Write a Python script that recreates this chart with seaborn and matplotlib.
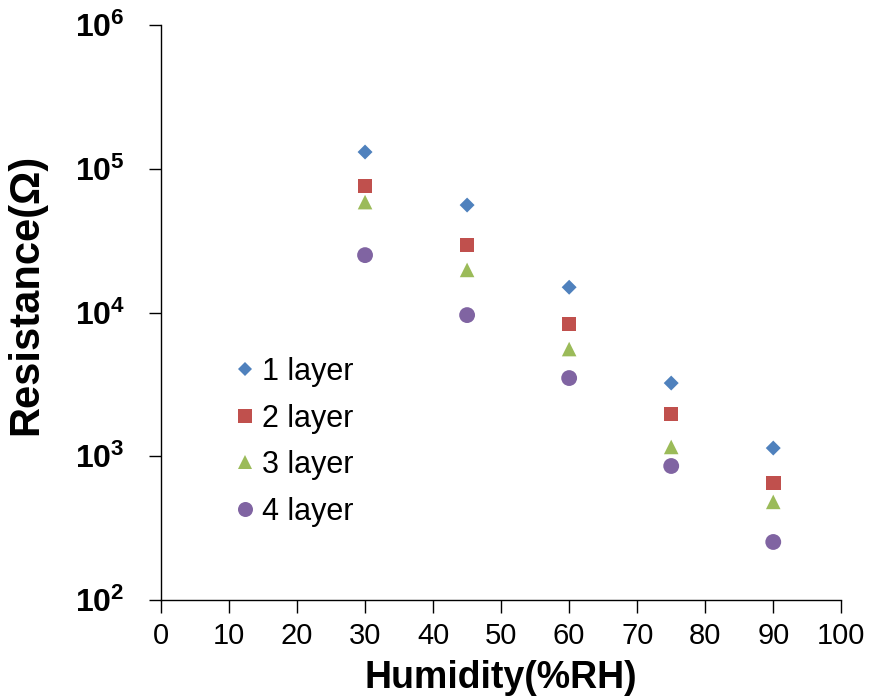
import matplotlib
matplotlib.use("Agg")
import matplotlib.pyplot as plt
import seaborn as sns
import pandas as pd
import numpy as np

humidity = [30, 45, 60, 75, 90]
layer1 = [1.31e5, 5.6e4, 1.5e4, 3.23e3, 1.14e3]
layer2 = [7.6e4, 2.95e4, 8.3e3, 1.97e3, 651]
layer3 = [5.87e4, 1.98e4, 5.57e3, 1.16e3, 481]
layer4 = [2.51e4, 9.6e3, 3.5e3, 855, 253]
series_names = ["1 layer", "2 layer", "3 layer", "4 layer"]
x_ticks = [0, 10, 20, 30, 40, 50, 60, 70, 80, 90, 100]
y_ticks = [1e2, 1e3, 1e4, 1e5, 1e6]
y_tick_labels = [r"$\mathbf{10^{2}}$", r"$\mathbf{10^{3}}$", r"$\mathbf{10^{4}}$",
                 r"$\mathbf{10^{5}}$", r"$\mathbf{10^{6}}$"]

rows = []
for name, vals in zip(series_names, [layer1, layer2, layer3, layer4]):
    for h, v in zip(humidity, vals):
        rows.append({"Humidity": h, "Resistance": v, "series": name})
df = pd.DataFrame(rows)

sns.set_style("white")
plt.rcParams["font.family"] = ["Liberation Sans", "DejaVu Sans"]
plt.rcParams["mathtext.fontset"] = "custom"
plt.rcParams["mathtext.rm"] = "Liberation Sans"
plt.rcParams["mathtext.bf"] = "Liberation Sans:bold"
for k in ["text.color", "axes.labelcolor", "xtick.color", "ytick.color"]:
    plt.rcParams[k] = "black"

colors = {"1 layer": "#4F81BD", "2 layer": "#C0504D", "3 layer": "#9BBB59", "4 layer": "#8064A2"}
markers = {"1 layer": "D", "2 layer": "s", "3 layer": "^", "4 layer": "o"}
sizes_map = {"1 layer": 58, "2 layer": 110, "3 layer": 110, "4 layer": 130}
legend_ms = {"1 layer": 6.8, "2 layer": 10.5, "3 layer": 9.5, "4 layer": 10.8}

fig = plt.figure(figsize=(8.7, 7), dpi=100)
ax = fig.add_axes([0.185, 0.143, 0.782, 0.821])

for name in series_names:
    sub = df[df["series"] == name]
    sns.scatterplot(data=sub, x="Humidity", y="Resistance", ax=ax, color=colors[name],
                    marker=markers[name], s=sizes_map[name], edgecolor="none",
                    label=name, legend=False)

ax.set_yscale("log")
ax.set_xlim(0, 100)
ax.set_ylim(1e2, 1e6)
ax.set_xticks(x_ticks)
ax.set_xticklabels([str(t) for t in x_ticks], fontsize=21)
ax.set_yticks(y_ticks)
ax.set_yticklabels(y_tick_labels, fontsize=23)
ax.yaxis.set_minor_locator(matplotlib.ticker.NullLocator())
ax.tick_params(axis="both", direction="out", length=9, width=1, color="black", left=True, bottom=True)
ax.tick_params(axis="y", pad=17)
ax.tick_params(axis="x", pad=7)
for s in ["top", "right"]:
    ax.spines[s].set_visible(False)
for s in ["left", "bottom"]:
    ax.spines[s].set_color("black")
    ax.spines[s].set_linewidth(1)

ax.set_xlabel("Humidity(%RH)", fontsize=27, fontweight="bold", labelpad=7)
ax.set_ylabel("Resistance(Ω)", fontsize=30, fontweight="bold")
ax.yaxis.set_label_coords(-0.168, 0.532)

handles = []
for name in series_names:
    handles.append(plt.Line2D([], [], linestyle="none", marker=markers[name], color=colors[name],
                              markersize=legend_ms[name], markeredgewidth=0))
leg = ax.legend(handles, series_names, loc="upper left", bbox_to_anchor=(0.083, 0.449),
                frameon=False, fontsize=22, handletextpad=0.15, handlelength=0.8,
                labelspacing=0.54, borderpad=0)

fig.savefig("out.png", dpi=100, facecolor="white")
